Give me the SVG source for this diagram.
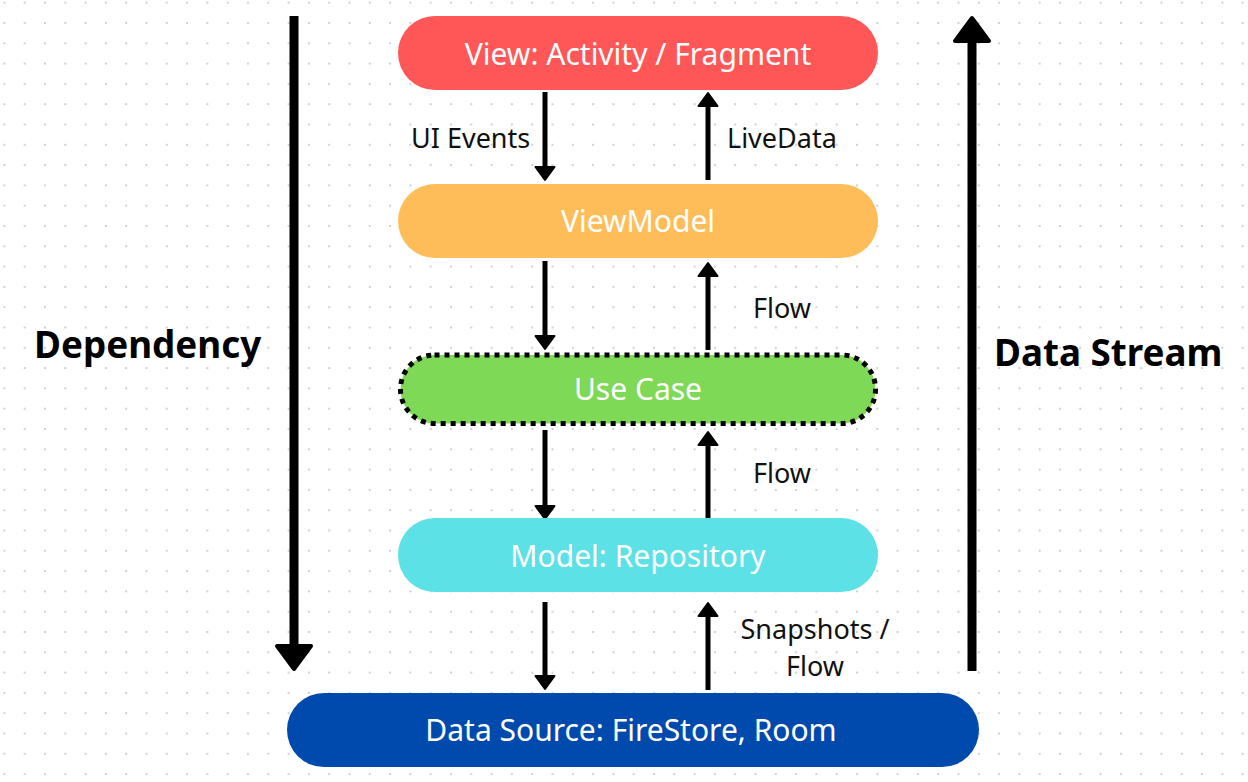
<svg xmlns="http://www.w3.org/2000/svg" width="1248" height="782" viewBox="0 0 1248 782">
  <style>
    .node-text { font-family: "Noto Sans", "Open Sans", sans-serif; font-size: 30px; fill: #ffffff; text-anchor: middle; }
    .label { font-family: "Noto Sans", "Open Sans", sans-serif; font-size: 27px; fill: #111111; }
    .title { font-family: "Noto Sans", "Open Sans", sans-serif; font-size: 36.8px; font-weight: bold; fill: #000000; }
    .small-arrow { stroke: #000; stroke-width: 5; fill: none; marker-end: url(#head-small); }
    .big-arrow { stroke: #000; stroke-width: 9; fill: none; marker-end: url(#head-big); }
  </style>
  <defs>
    <pattern id="dots" patternUnits="userSpaceOnUse" x="3.4" y="1.7" width="20.3" height="20.3">
      <rect x="0" y="0" width="2" height="2" fill="#cdd1dc"/>
    </pattern>
    <marker id="head-small" markerUnits="userSpaceOnUse" viewBox="0 0 16 22" markerWidth="16" markerHeight="22" refX="2" refY="11" orient="auto" overflow="visible">
      <path d="M1,1.5 L14,11 L1,20.5 Z" fill="#000" stroke="#000" stroke-width="2" stroke-linejoin="round"/>
    </marker>
    <marker id="head-big" markerUnits="userSpaceOnUse" viewBox="0 0 28 38" markerWidth="28" markerHeight="38" refX="3" refY="19" orient="auto" overflow="visible">
      <path d="M2,2 L25,19 L2,36 Z" fill="#000" stroke="#000" stroke-width="4" stroke-linejoin="round"/>
    </marker>
  </defs>

  <rect x="0" y="0" width="1248" height="782" fill="#ffffff"/>
  <rect x="0" y="0" width="1248" height="782" fill="url(#dots)"/>

  <g id="connectors">
    <line class="big-arrow" x1="294" y1="16" x2="294" y2="647"/>
    <line class="big-arrow" x1="972" y1="671" x2="972" y2="40"/>

    <line class="small-arrow" x1="545" y1="92" x2="545" y2="168"/>
    <line class="small-arrow" x1="708" y1="180" x2="708" y2="105"/>

    <line class="small-arrow" x1="545" y1="261" x2="545" y2="337"/>
    <line class="small-arrow" x1="708" y1="350" x2="708" y2="275"/>

    <line class="small-arrow" x1="545" y1="430" x2="545" y2="507"/>
    <line class="small-arrow" x1="708" y1="520" x2="708" y2="444"/>

    <line class="small-arrow" x1="545" y1="602" x2="545" y2="677"/>
    <line class="small-arrow" x1="708" y1="690" x2="708" y2="615"/>

    <text class="label" x="411" y="148">UI Events</text>
    <text class="label" x="727" y="148">LiveData</text>
    <text class="label" x="753" y="318">Flow</text>
    <text class="label" x="753" y="483">Flow</text>
    <text class="label" x="815" y="639" text-anchor="middle">Snapshots /</text>
    <text class="label" x="815" y="676" text-anchor="middle">Flow</text>
  </g>

  <g id="label-dependency">
    <text class="title" x="34" y="358">Dependency</text>
  </g>
  <g id="label-datastream">
    <text class="title" x="994" y="366">Data Stream</text>
  </g>

  <g id="node-view">
    <rect x="398" y="16" width="480" height="74" rx="37" fill="#ff5757"/>
    <text class="node-text" x="638" y="65">View: Activity / Fragment</text>
  </g>
  <g id="node-viewmodel">
    <rect x="398" y="184" width="480" height="74" rx="37" fill="#ffbd59"/>
    <text class="node-text" x="638" y="232">ViewModel</text>
  </g>
  <g id="node-usecase">
    <rect x="400.5" y="355" width="475" height="68.5" rx="34" fill="#7ed957" stroke="#000" stroke-width="5" stroke-dasharray="5 5"/>
    <text class="node-text" x="638" y="400">Use Case</text>
  </g>
  <g id="node-repository">
    <rect x="398" y="518" width="480" height="74" rx="37" fill="#5ce1e6"/>
    <text class="node-text" x="638" y="567">Model: Repository</text>
  </g>
  <g id="node-datasource">
    <rect x="287" y="693" width="692" height="74" rx="37" fill="#004aad"/>
    <text class="node-text" x="631" y="741">Data Source: FireStore, Room</text>
  </g>
</svg>
